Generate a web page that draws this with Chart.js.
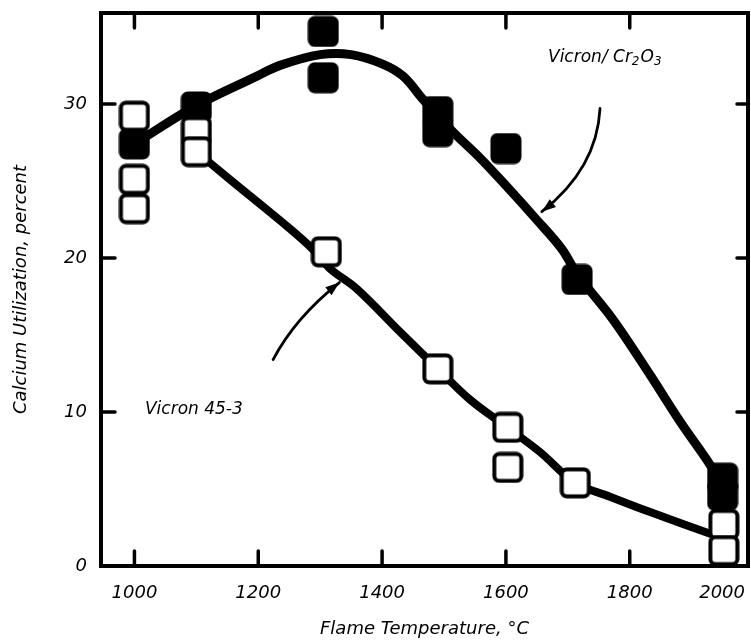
<!DOCTYPE html>
<html>
<head>
<meta charset="utf-8">
<script src="https://cdn.jsdelivr.net/npm/chart.js@4.4.1/dist/chart.umd.min.js"></script>
<style>
  html, body { margin: 0; padding: 0; background: #fff; }
  #wrap { width: 751px; height: 642px; }
</style>
</head>
<body>
<div id="wrap"><canvas id="myChart" width="751" height="642"></canvas></div>
<script>
// measured points: flame temperature (°C) vs calcium utilization (%)
const cr2o3Temp = [1000, 1100, 1305, 1305, 1490, 1490, 1600, 1715, 1950, 1950]
const cr2o3Util = [27.4, 29.8, 34.7, 31.7, 29.5, 28.2, 27.1, 18.6, 5.7, 4.6]

const v453Temp = [1000, 1000, 1000, 1100, 1100, 1310, 1490, 1603, 1603, 1712, 1952, 1952]
const v453Util = [29.2, 25.1, 23.2, 28.2, 26.9, 20.4, 12.8, 9.0, 6.4, 5.4, 2.7, 1.0]

// hand drawn fit curves
const cr2o3CurveT = [1000, 1096, 1198, 1235, 1300, 1350, 1400, 1434, 1466, 1514, 1558, 1600, 1647, 1690, 1716, 1773, 1833, 1881, 1926, 1949]
const cr2o3CurveU = [27.4, 29.8, 31.8, 32.5, 33.2, 33.2, 32.6, 31.8, 30.3, 28.2, 26.5, 24.7, 22.6, 20.6, 18.9, 16.0, 12.4, 9.4, 6.8, 5.3]

const v453CurveT = [1100, 1154, 1251, 1287, 1316, 1359, 1429, 1490, 1542, 1602, 1655, 1712, 1768, 1833, 1930]
const v453CurveU = [26.9, 25.1, 21.9, 20.6, 19.3, 18.0, 15.2, 12.8, 10.8, 9.0, 7.4, 5.4, 4.5, 3.5, 2.1]

const xTicks = [1000, 1200, 1400, 1600, 1800, 2000]
const yTicks = [0, 10, 20, 30]

// labels and their arrows: [temp, util]
const cr2o3Label = [1668, 33.0]
const cr2o3Arrow = [[1752, 29.7], [1747, 25.8], [1658, 23.0]]
const v453Label = [1017, 10.15]
const v453Arrow = [[1224, 13.4], [1259, 16.1], [1331, 18.4]]

const pts = (xs, ys) => xs.map((x, i) => ({x: x, y: ys[i]}))

const makeSquare = (filled) => {
    const c = document.createElement('canvas')
    c.width = 32
    c.height = 32
    const g = c.getContext('2d')
    g.beginPath()
    g.roundRect(2.5, 2.5, 27, 27, 5)
    g.fillStyle = filled ? '#000' : '#fff'
    g.fill()
    g.lineWidth = 4
    g.strokeStyle = '#000'
    g.stroke()
    return c
}

const fam = '"DejaVu Sans"'

// no extra room for labels, the frame sits where the layout says
const noPad = s => {
    s.paddingLeft = 0
    s.paddingRight = 0
    s.paddingTop = 0
    s.paddingBottom = 0
}

const drawArrow = (ctx, xs, ys, arr) => {
    const p = arr.map(a => ({x: xs.getPixelForValue(a[0]), y: ys.getPixelForValue(a[1])}))
    ctx.lineWidth = 2.8
    ctx.lineCap = 'round'
    ctx.beginPath()
    ctx.moveTo(p[0].x, p[0].y)
    ctx.quadraticCurveTo(p[1].x, p[1].y, p[2].x, p[2].y)
    ctx.stroke()
    const ang = Math.atan2(p[2].y - p[1].y, p[2].x - p[1].x)
    const len = 14, wid = 5
    const bx = p[2].x - len * Math.cos(ang), by = p[2].y - len * Math.sin(ang)
    ctx.beginPath()
    ctx.moveTo(p[2].x, p[2].y)
    ctx.lineTo(bx + wid * Math.sin(ang), by - wid * Math.cos(ang))
    ctx.lineTo(bx - wid * Math.sin(ang), by + wid * Math.cos(ang))
    ctx.closePath()
    ctx.fill()
}

const framePlugin = {
    id: 'frame',
    beforeDatasetsDraw(chart) {
        const {ctx, chartArea: a, scales: {x, y}} = chart
        ctx.save()
        ctx.strokeStyle = '#000'
        ctx.lineWidth = 4
        ctx.strokeRect(a.left, a.top, a.right - a.left, a.bottom - a.top)
        ctx.lineWidth = 3.5
        ctx.lineCap = 'round'
        ctx.beginPath()
        xTicks.filter(v => v < x.max).forEach(v => {
            const px = x.getPixelForValue(v)
            ctx.moveTo(px, a.bottom); ctx.lineTo(px, a.bottom - 15)
            ctx.moveTo(px, a.top); ctx.lineTo(px, a.top + 15)
        })
        yTicks.filter(v => v > 0).forEach(v => {
            const py = y.getPixelForValue(v)
            ctx.moveTo(a.left, py); ctx.lineTo(a.left + 14, py)
            ctx.moveTo(a.right, py); ctx.lineTo(a.right - 11, py)
        })
        ctx.stroke()
        ctx.restore()
    },
    afterDatasetsDraw(chart) {
        const {ctx, chartArea: a, scales: {x, y}} = chart
        ctx.save()
        ctx.fillStyle = '#000'
        ctx.strokeStyle = '#000'

        // x tick labels, last one kept inside the frame
        ctx.font = 'italic 18px ' + fam
        ctx.textBaseline = 'middle'
        ctx.textAlign = 'center'
        xTicks.forEach(v => {
            const txt = String(v)
            const w = ctx.measureText(txt).width
            const px = Math.min(x.getPixelForValue(v), a.right - 3 - w / 2)
            ctx.fillText(txt, px, a.bottom + 27)
        })

        // curve labels
        ctx.textAlign = 'left'
        let lx = x.getPixelForValue(cr2o3Label[0])
        const ly = y.getPixelForValue(cr2o3Label[1])
        const parts = [['Vicron/ Cr', false], ['2', true], ['O', false], ['3', true]]
        parts.forEach(([t, sub]) => {
            ctx.font = sub ? 'italic 12px ' + fam : 'italic 17px ' + fam
            ctx.fillText(t, lx, sub ? ly + 4 : ly)
            lx += ctx.measureText(t).width + (sub ? 1 : 0)
        })
        ctx.font = 'italic 17px ' + fam
        ctx.fillText('Vicron 45-3', x.getPixelForValue(v453Label[0]), y.getPixelForValue(v453Label[1]))

        drawArrow(ctx, x, y, cr2o3Arrow)
        drawArrow(ctx, x, y, v453Arrow)
        ctx.restore()
    }
}

const ctx = document.getElementById('myChart').getContext('2d')

const chart = new Chart(ctx, {
    type: 'scatter',
    data: {
        datasets: [
            {
                label: 'Vicron/Cr2O3 curve',
                data: pts(cr2o3CurveT, cr2o3CurveU),
                showLine: true,
                borderColor: '#000',
                borderWidth: 9,
                borderCapStyle: 'round',
                borderJoinStyle: 'round',
                pointRadius: 0,
                tension: 0.35,
                order: 4
            },
            {
                label: 'Vicron 45-3 curve',
                data: pts(v453CurveT, v453CurveU),
                showLine: true,
                borderColor: '#000',
                borderWidth: 8,
                borderCapStyle: 'round',
                borderJoinStyle: 'round',
                pointRadius: 0,
                tension: 0.35,
                order: 3
            },
            {
                label: 'Vicron/Cr2O3',
                data: pts(cr2o3Temp, cr2o3Util),
                pointStyle: makeSquare(true),
                pointRadius: 15,
                order: 2
            },
            {
                label: 'Vicron 45-3',
                data: pts(v453Temp, v453Util),
                pointStyle: makeSquare(false),
                pointRadius: 15,
                order: 1
            }
        ]
    },
    options: {
        responsive: false,
        animation: false,
        devicePixelRatio: 1,
        layout: {autoPadding: false, padding: {left: 0, right: 3, top: 13, bottom: 0}},
        plugins: {legend: {display: false}, tooltip: {enabled: false}},
        scales: {
            x: {
                type: 'linear',
                min: 946,
                max: 1991,
                grid: {display: false, drawTicks: false},
                border: {display: false},
                ticks: {display: false},
                afterFit: s => { s.height = 76; noPad(s) },
                title: {
                    display: true,
                    text: 'Flame Temperature, °C',
                    color: '#000',
                    font: {family: 'DejaVu Sans', size: 18, style: 'italic'},
                    padding: {top: 0, bottom: 2}
                }
            },
            y: {
                type: 'linear',
                min: 0,
                max: 35.9,
                grid: {display: false, drawTicks: false},
                border: {display: false},
                afterBuildTicks: s => { s.ticks = yTicks.map(v => ({value: v})) },
                ticks: {
                    color: '#000',
                    padding: 14,
                    font: {family: 'DejaVu Sans', size: 18, style: 'italic'}
                },
                afterFit: s => { s.width = 101; noPad(s) },
                title: {
                    display: true,
                    text: 'Calcium Utilization, percent',
                    color: '#000',
                    font: {family: 'DejaVu Sans', size: 18, style: 'italic'},
                    padding: {top: 11, bottom: 0}
                }
            }
        }
    },
    plugins: [framePlugin]
})
</script>
</body>
</html>
